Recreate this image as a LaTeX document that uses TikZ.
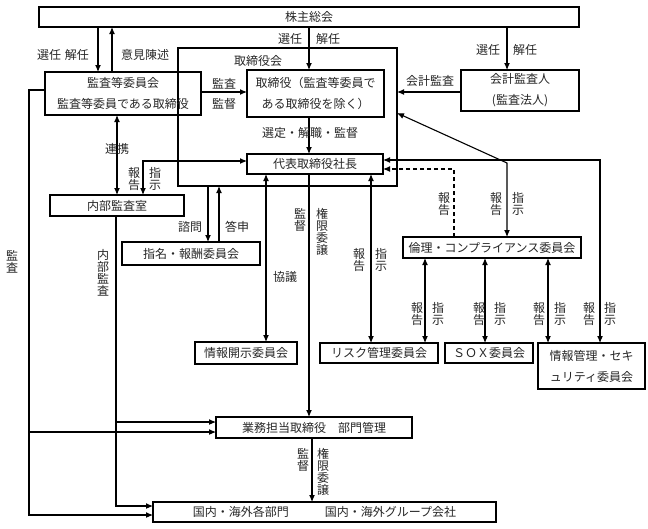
\documentclass[tikz,border=0pt]{standalone}
\usepackage{fontspec}
\newfontfamily\jp{Noto Sans CJK JP}
\usetikzlibrary{arrows.meta}
\begin{document}
\begin{tikzpicture}[x=1pt,y=-1pt,
 box/.style={draw,line width=1.3pt,inner sep=0pt,outer sep=0pt,font=\jp\fontsize{12}{21}\selectfont,align=center,text=black!85},
 lab/.style={font=\jp\fontsize{12}{12}\selectfont,inner sep=0pt,align=center,text=black!85},
 arr/.style={line width=1.1pt,-{Latex[length=7pt,width=6pt]}},
 darr/.style={line width=1.1pt,{Latex[length=7pt,width=6pt]}-{Latex[length=7pt,width=6pt]}},
 dashline/.style={dash pattern=on 4pt off 3pt}]
\useasboundingbox (0,0) rectangle (648,528);
% boxes
\node[box,minimum width=540pt,minimum height=20pt] (sh) at (309,17) {株主総会};
\node[box,minimum width=219pt,minimum height=138pt] (bod) at (287.5,117) {};
\node[lab] (bodl) at (258,61) {取締役会};
\node[box,minimum width=156pt,minimum height=43pt] (ac) at (123,93.5) {監査等委員会\\監査等委員である取締役};
\node[box,minimum width=137pt,minimum height=47pt] (dir) at (315.5,93.5) {取締役（監査等委員で\\ある取締役を除く）};
\node[box,minimum width=118pt,minimum height=41pt] (ea) at (520,90.5) {会計監査人\\(監査法人)};
\node[box,minimum width=136pt,minimum height=20pt] (pres) at (315,164) {代表取締役社長};
\node[box,minimum width=134pt,minimum height=21pt] (ia) at (117,205.5) {内部監査室};
\node[box,minimum width=138pt,minimum height=23pt] (nc) at (191,253.5) {指名・報酬委員会};
\node[box,minimum width=102pt,minimum height=22pt] (disc) at (246,353) {情報開示委員会};
\node[box,minimum width=118pt,minimum height=20pt] (risk) at (379,353) {リスク管理委員会};
\node[box,minimum width=88pt,minimum height=20pt] (sox) at (489,353) {ＳＯＸ委員会};
\node[box,minimum width=107pt,minimum height=46pt] (isec) at (591.5,366) {情報管理・セキ\\ュリティ委員会};
\node[box,minimum width=178pt,minimum height=21pt] (eth) at (492,247.5) {倫理・コンプライアンス委員会};
\node[box,minimum width=196pt,minimum height=21pt] (exec) at (314,427.5) {業務担当取締役　部門管理};
\node[box,minimum width=343pt,minimum height=20pt] (dom) at (324.5,512) {国内・海外各部門　　　国内・海外グループ会社};
% top connectors
\draw[arr] (sh.south -| 98,0) -- (ac.north -| 98,0);
\draw[arr] (ac.north -| 112,0) -- (sh.south -| 112,0);
\node[lab] (l1) at (63,55) {選任\hspace{4pt}解任};
\node[lab] (l2) at (145,55) {意見陳述};
\draw[arr] (sh.south -| 309,0) -- (dir.north -| 309,0);
\node[lab] (l3) at (290,39) {選任};
\node[lab] (l4) at (328,39) {解任};
\draw[arr] (sh.south -| 507,0) -- (ea.north -| 507,0);
\node[lab] (l5) at (488,50) {選任};
\node[lab] (l6) at (525,50) {解任};
\draw[arr] (ea.west |- 0,92) -- (bod.east |- 0,92);
\node[lab] (l7) at (430,81) {会計監査};
\draw[arr] (ac.east |- 0,92) -- (dir.west |- 0,92);
\node[lab] (l8) at (224,84) {監査};
\node[lab] (l9) at (224,104) {監督};
\draw[arr] (dir.south -| 309,0) -- (pres.north -| 309,0);
\node[lab] (l10) at (310,133) {選定・解職・監督};
% internal audit
\draw[darr] (ac.south -| 117,0) -- (ia.north -| 117,0);
\node[lab] (l11) at (117,149) {連携};
\draw[darr] (pres.west |- 0,161) -| (ia.north -| 143,0);
\node[lab] (l12) at (134,179) {報\\告};
\node[lab] (l13) at (155,179) {指\\示};
% left audit lines
\coordinate (j1) at (29,432);
\draw[arr] (ac.west |- 0,90) -| (29,515) -- (dom.west |- 0,515);
\draw[arr] (j1) -- (exec.west |- 0,432);
\node[lab] (l14) at (12,262) {監\\査};
\coordinate (j2) at (116,422);
\draw[arr] (ia.south -| 116,0) |- (dom.west |- 0,506);
\draw[arr] (j2) -- (exec.west |- 0,422);
\node[lab] (l15) at (103,273) {内\\部\\監\\査};
% nomination
\draw[arr] (bod.south -| 208,0) -- (nc.north -| 208,0);
\draw[arr] (nc.north -| 219,0) -- (bod.south -| 219,0);
\node[lab] (l16) at (190,227) {諮問};
\node[lab] (l17) at (237,227) {答申};
% disclosure
\draw[darr] (pres.south -| 266,0) -- (disc.north -| 266,0);
\node[lab] (l18) at (285,277) {協議};
% exec
\draw[arr] (pres.south -| 309,0) -- (exec.north -| 309,0);
\node[lab] (l19) at (300,220) {監\\督};
\node[lab] (l20) at (322,232) {権\\限\\委\\譲};
% risk
\draw[darr] (pres.south -| 371,0) -- (risk.north -| 371,0);
\node[lab] (l21) at (359,260) {報\\告};
\node[lab] (l22) at (381,260) {指\\示};
% ethics
\draw[arr,dashline] (eth.north -| 454,0) |- (pres.east |- 0,169);
\node[lab] (l23) at (444,204) {報\\告};
\draw[darr] (bod.east |- 0,113) -- (507,163) -- (eth.north -| 507,0);
\node[lab] (l24) at (496,204) {報\\告};
\node[lab] (l25) at (518,204) {指\\示};
\draw[darr] (pres.east |- 0,160) -| (isec.north -| 600,0);
\node[lab] (l26) at (589,314) {報\\告};
\node[lab] (l27) at (610,314) {指\\示};
\draw[darr] (eth.south -| 425,0) -- (risk.north -| 425,0);
\node[lab] (l28) at (417,314) {報\\告};
\node[lab] (l29) at (438,314) {指\\示};
\draw[darr] (eth.south -| 485,0) -- (sox.north -| 485,0);
\node[lab] (l30) at (479,314) {報\\告};
\node[lab] (l31) at (500,314) {指\\示};
\draw[darr] (eth.south -| 548,0) -- (isec.north -| 548,0);
\node[lab] (l32) at (539,314) {報\\告};
\node[lab] (l33) at (560,314) {指\\示};
% exec to dom
\draw[arr] (exec.south -| 312,0) -- (dom.north -| 312,0);
\node[lab] (l34) at (303,460) {監\\督};
\node[lab] (l35) at (323,472) {権\\限\\委\\譲};
\end{tikzpicture}
\end{document}
